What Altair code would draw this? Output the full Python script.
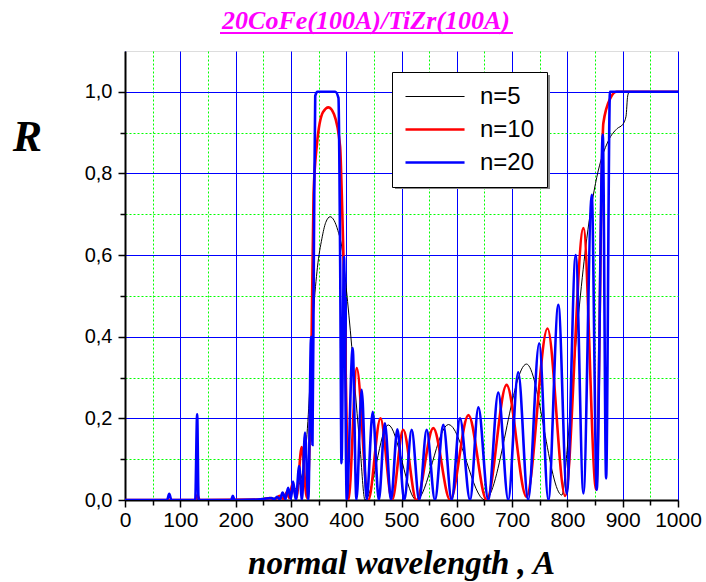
import altair as alt
import pandas as pd

# ---- data ----
title_text = "20CoFe(100A)/TiZr(100A)"
series_names = ["n=5", "n=10", "n=20"]
series_colors = ["black", "red", "blue"]
series_widths = [1, 2.6, 2.6]

wl5 = [0, 240, 260, 280, 300, 310, 318, 325, 331.5, 336, 341, 348, 356, 363, 371, 378, 385, 392,
       400, 410, 418, 425, 434, 476, 527, 585, 651, 726, 790, 800, 810, 822, 835, 853, 874, 890,
       900, 906, 909, 912, 1000]
r5 = [0, 0.001, 0.003, 0.008, 0.02, 0.03, 0.05, 0.1, 0.21, 0.33, 0.46, 0.57, 0.64, 0.68, 0.694, 0.685, 0.66, 0.62,
      0.52, 0.376, 0.24, 0.13, 0.0, 0.184, 0.0, 0.185, 0.0, 0.333, 0.012, 0.13, 0.3, 0.48, 0.64, 0.79, 0.88, 0.91,
      0.92, 0.94, 0.99, 1.0, 1.0]

wl10 = [0, 127, 131, 135, 240, 250, 262, 270, 280, 287, 293, 297, 303, 310, 319.5, 329, 334, 337.5, 341, 347,
        358, 368, 378, 389, 392, 395, 400, 404, 419, 440, 462, 483, 503, 527, 557.5, 588, 621, 654, 690, 726,
        764, 796, 829, 852, 865, 878, 889, 1000]
r10 = [0, 0, 0.012, 0, 0.001, 0.002, 0.005, 0.001, 0.01, 0.002, 0.02, 0.005, 0.04, 0.005, 0.13, 0.005, 0.15, 0.40, 0.75, 0.87,
       0.95, 0.962, 0.945, 0.866, 0.75, 0.6, 0.25, 0.0, 0.323, 0.0, 0.2, 0.0, 0.172, 0.0, 0.176, 0.0, 0.208, 0.0, 0.282, 0.008,
       0.42, 0.01, 0.666, 0.025, 0.923, 0.985, 1.0, 1.0]

wl20 = [0, 76, 80, 84, 127, 130.5, 133, 192, 195, 198, 240, 265, 270, 275, 280, 285, 290, 295, 300, 304,
        309, 315, 320, 325.5, 331.5, 336.5, 339, 341.5, 344, 348, 380, 386, 389, 391.5, 396, 401, 411.7, 418.5,
        428, 437, 448, 459, 470, 481, 492.5, 505, 518.4, 532, 545.5, 560.5, 575.6, 590.7, 605.8, 624, 639, 657,
        675, 693, 711, 729, 749, 765.5, 783.6, 799, 815, 829, 844, 853, 864, 870, 877, 1000]
r20 = [0, 0, 0.015, 0, 0, 0.21, 0, 0, 0.01, 0, 0.001, 0.005, 0.001, 0.008, 0.001, 0.018, 0.002, 0.03, 0.003, 0.045,
       0.0, 0.083, 0.0, 0.165, 0.0, 0.40, 0.135, 0.6, 0.99, 1.0, 1.0, 0.985, 0.6, 0.09, 0.596, 0.0, 0.372, 0.0,
       0.27, 0.0, 0.216, 0.0, 0.188, 0.0, 0.173, 0.0, 0.172, 0.0, 0.172, 0.0, 0.184, 0.0, 0.2, 0.0, 0.227, 0.0,
       0.263, 0.0, 0.313, 0.0, 0.384, 0.0, 0.478, 0.016, 0.6, 0.016, 0.748, 0.025, 0.895, 0.053, 1.0, 1.0]

x_ticks = list(range(0, 1001, 50))
y_ticks = [round(i * 0.1, 1) for i in range(11)]

rows = []
for name, xs, ys in zip(series_names, [wl5, wl10, wl20], [r5, r10, r20]):
    assert len(xs) == len(ys), name
    for a, b in zip(xs, ys):
        rows.append({"series": name, "wl": a, "R": b})
df = pd.DataFrame(rows)

legend_common = dict(
    title=None, orient="none", legendX=267, legendY=21,
    symbolType="M-1,0H3.92", symbolSize=576, labelOffset=49,
    labelFont="Liberation Sans", labelFontSize=24, labelColor="black",
    padding=12, rowPadding=7, fillColor="white", strokeColor="black",
)

x_axis = alt.Axis(
    values=x_ticks,
    labelExpr="datum.value % 100 === 0 ? format(datum.value, 'd') : ''",
    labelFont="Liberation Sans", labelFontSize=21, labelColor="black", labelPadding=2,
    labelFlush=False, labelOverlap=False,
    domainColor="black", domainWidth=2,
    tickColor="black", tickWidth=1.5,
    tickSize={"condition": {"test": "datum.value % 100 === 0", "value": 7}, "value": 5},
    gridColor={"condition": {"test": "datum.value % 100 === 0", "value": "#0000FF"}, "value": "#00FF00"},
    gridDash={"condition": {"test": "datum.value % 100 === 0", "value": []}, "value": [2, 2]},
    gridWidth=1, gridOpacity=1,
    title="normal wavelength , A",
    titleFont="Liberation Serif", titleFontSize=33, titleFontStyle="italic", titleFontWeight="bold",
    titleColor="black", titleX=276, titleY=73, titleAlign="center", titleBaseline="alphabetic",
)

y_axis = alt.Axis(
    values=y_ticks,
    labelExpr="round(datum.value * 10) % 2 === 0 ? replace(format(datum.value, '.1f'), '.', ',') : ''",
    labelFont="Liberation Sans", labelFontSize=20, labelColor="black", labelPadding=6,
    labelFlush=False, labelOverlap=False,
    domainColor="black", domainWidth=2,
    tickColor="black", tickWidth=1.5,
    tickSize={"condition": {"test": "round(datum.value * 10) % 2 === 0", "value": 7}, "value": 5},
    gridColor={"condition": {"test": "round(datum.value * 10) % 2 === 0", "value": "#0000FF"}, "value": "#00FF00"},
    gridDash={"condition": {"test": "round(datum.value * 10) % 2 === 0", "value": []}, "value": [2, 2]},
    gridWidth=1, gridOpacity=1,
    title="R", titleAngle=0,
    titleFont="Liberation Serif", titleFontSize=44, titleFontStyle="italic", titleFontWeight="bold",
    titleColor="black", titleX=-98, titleY=99, titleAlign="center", titleBaseline="alphabetic",
)

lines = alt.Chart(df).mark_line(interpolate="monotone", clip=True).encode(
    x=alt.X("wl:Q", scale=alt.Scale(domain=[0, 1000], nice=False, zero=False), axis=x_axis),
    y=alt.Y("R:Q", scale=alt.Scale(domain=[0, 1.1], nice=False), axis=y_axis),
    color=alt.Color("series:N", sort=series_names,
                    scale=alt.Scale(domain=series_names, range=series_colors),
                    legend=alt.Legend(**legend_common)),
    strokeWidth=alt.StrokeWidth("series:N", sort=series_names,
                                scale=alt.Scale(type="ordinal", domain=series_names, range=series_widths),
                                legend=alt.Legend(**legend_common)),
)

title_mark = alt.Chart(pd.DataFrame({"t": [title_text]})).mark_text(
    font="Liberation Serif", fontSize=26, fontStyle="italic", fontWeight="bold",
    color="#FF00FF", align="center", baseline="alphabetic",
).encode(text="t:N", x=alt.value(241), y=alt.value(-22))

underline = alt.Chart(pd.DataFrame({"u": [0]})).mark_rule(color="#FF00FF", strokeWidth=2).encode(
    x=alt.value(95), x2=alt.value(388), y=alt.value(-18)
)

# grey drop shadow behind the legend box
legend_shadow = alt.Chart(pd.DataFrame({"s": [0]})).mark_rect(color="#888888").encode(
    x=alt.value(270), x2=alt.value(425), y=alt.value(24), y2=alt.value(138)
)

chart = alt.layer(lines, legend_shadow, title_mark, underline).properties(
    width=553, height=449,
    autosize=alt.AutoSizeParams(type="none"),
    padding={"left": 125, "top": 51, "right": 28, "bottom": 82},
).configure_view(stroke="black", strokeWidth=2).configure(background="white")

chart.save("out.html", embed_options={"renderer": "svg", "actions": False})
